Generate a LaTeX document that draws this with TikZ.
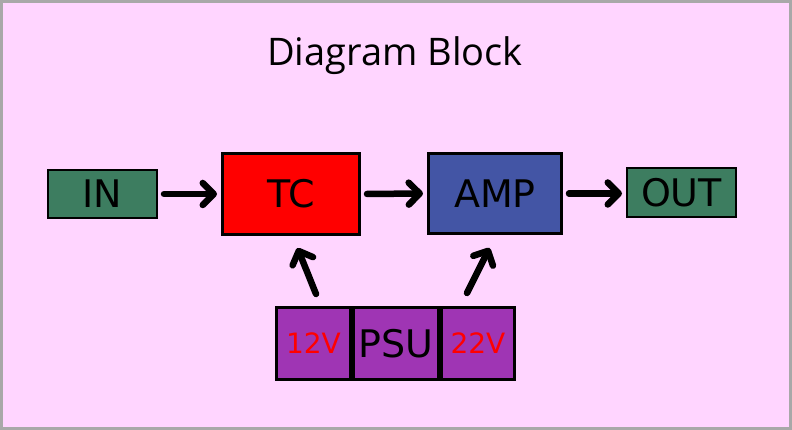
\documentclass[tikz,border=0pt]{standalone}
\usepackage{fontspec}
\setmainfont{DejaVu Sans}
\newfontfamily\titlefont{Open Sans}
\usetikzlibrary{arrows.meta}
\definecolor{bgpink}{RGB}{255,213,255}
\definecolor{framegray}{RGB}{168,168,168}
\definecolor{boxgreen}{RGB}{61,125,96}
\definecolor{boxblue}{RGB}{67,85,165}
\definecolor{boxpurple}{RGB}{159,53,180}
\tikzset{
  blk/.style={draw=black, inner sep=0pt, font=\fontsize{38}{40}\selectfont},
  thin blk/.style={blk, line width=2pt},
  thick blk/.style={blk, line width=3pt},
  arr/.style={line width=6.5pt, line cap=round,
    -{Straight Barb[length=11pt,width=22pt,round]}},
}
\begin{document}
\begin{tikzpicture}[x=1pt,y=-1pt]
\useasboundingbox (0,0) rectangle (792,430);
\fill[framegray] (0,0) rectangle (792,430);
\fill[bgpink] (3,3) rectangle (789,427);
\node[font=\titlefont\fontsize{38}{40}\selectfont] (title) at (395,56) {Diagram Block};
\node[thin blk, fill=boxgreen, minimum width=109pt, minimum height=48pt] (IN) at (102.5,194) {IN};
\node[thick blk, fill=red, minimum width=137pt, minimum height=81pt] (TC) at (291,194) {TC};
\node[thick blk, fill=boxblue, minimum width=133pt, minimum height=80pt] (AMP) at (495,193.5) {AMP};
\node[thin blk, fill=boxgreen, minimum width=109pt, minimum height=49pt] (OUT) at (681.5,192.5) {OUT};
\node[thick blk, fill=boxpurple, minimum width=74pt, minimum height=72pt, text=red, font=\fontsize{28}{30}\selectfont] (V12) at (313.5,343.5) {12V};
\node[thick blk, fill=boxpurple, minimum width=85pt, minimum height=72pt] (PSU) at (396,343.5) {PSU};
\node[thick blk, fill=boxpurple, minimum width=73pt, minimum height=72pt, text=red, font=\fontsize{28}{30}\selectfont] (V22) at (478,343.5) {22V};
\coordinate (s12) at (316,294);
\coordinate (h12) at (297.5,248);
\coordinate (s22) at (467,293);
\coordinate (h22) at (489.5,248);
\draw[arr, shorten <=6pt, shorten >=4pt] (IN.east) -- (TC.west);
\draw[arr, shorten <=6pt, shorten >=4pt] (TC.east) -- (AMP.west);
\draw[arr, shorten <=6pt, shorten >=4pt] (AMP.east) -- (AMP.east -| OUT.west);
\draw[arr] (s12) -- (h12);
\draw[arr] (s22) -- (h22);
\end{tikzpicture}
\end{document}
